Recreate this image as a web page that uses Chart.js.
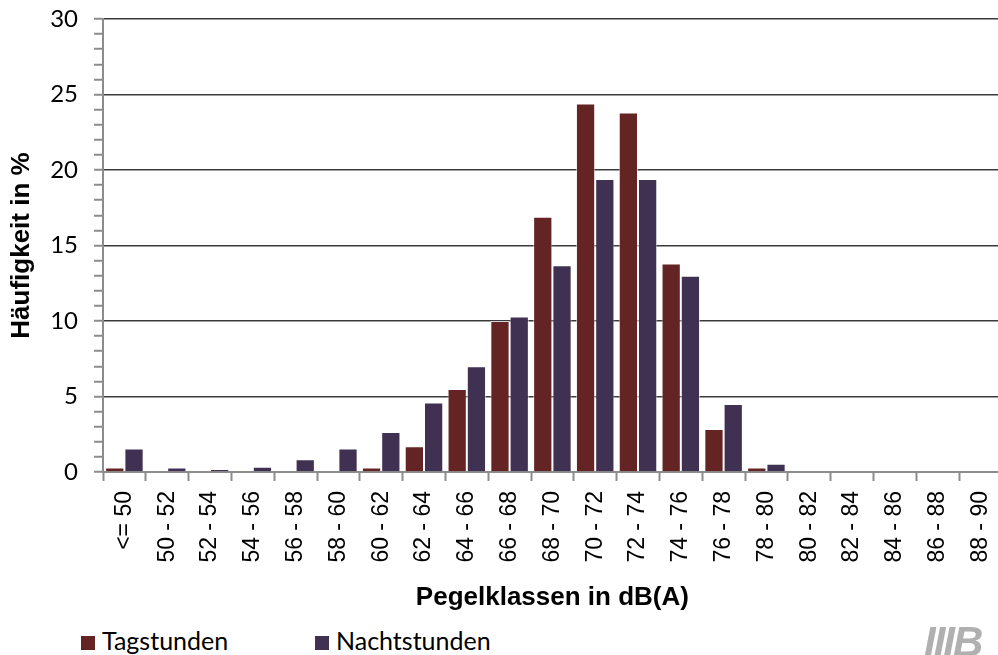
<!DOCTYPE html>
<html>
<head>
<meta charset="utf-8">
<script src="https://cdn.jsdelivr.net/npm/chart.js@4.4.0/dist/chart.umd.min.js"></script>
<style>
  body { margin: 0; overflow: hidden; background: #fff; }
  #wrap { position: relative; width: 1018px; height: 655px; }
  #legend { position: absolute; top: 625px; left: 81px; font-family: Lato, sans-serif; font-size: 25px; color: #000; }
  #legend span.item { position: absolute; white-space: nowrap; }
  #legend span.box { display: inline-block; width: 14px; height: 14px; margin-right: 7px; }
  #logo { position: absolute; left: 924px; top: 618px; font: italic bold 42px "Liberation Sans", Arial, sans-serif; color: #b0b0b0; letter-spacing: -2px; }
</style>
</head>
<body>
<div id="wrap">
  <canvas id="barChart" width="1018" height="620"></canvas>
  <div id="legend"></div>
  <div id="logo">IIIB</div>
</div>
<script>
const categories = ['<= 50', '50 - 52', '52 - 54', '54 - 56', '56 - 58', '58 - 60', '60 - 62', '62 - 64', '64 - 66', '66 - 68',
  '68 - 70', '70 - 72', '72 - 74', '74 - 76', '76 - 78', '78 - 80', '80 - 82', '82 - 84', '84 - 86', '86 - 88', '88 - 90'];
const tagstunden = [0.3, 0, 0, 0, 0, 0, 0.3, 1.7, 5.5, 10.0, 16.9, 24.4, 23.8, 13.8, 2.85, 0.3, 0, 0, 0, 0, 0];
const nachtstunden = [1.55, 0.3, 0.2, 0.35, 0.85, 1.55, 2.65, 4.6, 7.0, 10.3, 13.7, 19.4, 19.4, 13.0, 4.5, 0.55, 0, 0, 0, 0, 0];
const seriesNames = ['Tagstunden', 'Nachtstunden'];
const seriesColors = ['#632423', '#403152'];

const axisGray = '#8c8c8c';

var ctx = document.getElementById('barChart').getContext('2d');
var chart = new Chart(ctx, {
  type: 'bar',
  data: {
    labels: categories,
    datasets: [
      {label: seriesNames[0], data: tagstunden, backgroundColor: seriesColors[0], borderColor: 'rgba(255,255,255,0.6)', borderWidth: 1},
      {label: seriesNames[1], data: nachtstunden, backgroundColor: seriesColors[1], borderColor: 'rgba(255,255,255,0.6)', borderWidth: 1}
    ]
  },
  options: {
    responsive: false,
    animation: false,
    layout: {padding: {top: 19, left: 0, right: 0, bottom: 0}},
    datasets: {bar: {categoryPercentage: 0.9, barPercentage: 1.0}},
    plugins: {legend: {display: false}, tooltip: {enabled: false}},
    scales: {
      x: {
        afterFit: (scale) => { scale.height = 148; },
        grid: {drawOnChartArea: false, drawTicks: true, tickLength: 9, tickColor: axisGray, tickWidth: 2, offset: true},
        border: {color: axisGray, width: 2},
        ticks: {
          minRotation: 90, maxRotation: 90, autoSkip: false, padding: 10,
          color: '#000', font: {family: '"Liberation Sans", Arial, sans-serif', size: 23}
        },
        title: {
          display: true, text: 'Pegelklassen in dB(A)', color: '#000',
          font: {family: '"Liberation Sans", Arial, sans-serif', size: 26, weight: 'bold'},
          padding: {top: 0, bottom: 7}
        }
      },
      y: {
        min: 0, max: 30,
        afterFit: (scale) => { scale.width = 103; scale.paddingTop = 0; scale.paddingBottom = 0; },
        grid: {
          color: (c) => (c.tick && c.tick.value % 5 === 0 && c.tick.value !== 0) ? '#3a3a3a' : 'rgba(0,0,0,0)',
          lineWidth: 1.5,
          tickLength: 9, tickColor: axisGray, tickWidth: 2
        },
        border: {color: axisGray, width: 2},
        ticks: {
          stepSize: 1, autoSkip: false, padding: 16, color: '#000',
          font: {family: 'Lato, sans-serif', size: 24},
          callback: (v) => v % 5 === 0 ? v : ''
        },
        title: {
          display: true, text: 'Häufigkeit in %', color: '#000',
          font: {family: '"Liberation Sans", Arial, sans-serif', size: 26, weight: 'bold'},
          padding: {top: 6, bottom: 0}
        }
      }
    }
  }
});

// legend below the chart, built from the datasets
var legend = document.getElementById('legend');
var legendX = [0, 234];
chart.data.datasets.forEach(function (ds, i) {
  var item = document.createElement('span');
  item.className = 'item';
  item.style.left = legendX[i] + 'px';
  item.innerHTML = '<span class="box" style="background:' + ds.backgroundColor + '"></span>' + ds.label;
  legend.appendChild(item);
});
</script>
</body>
</html>
